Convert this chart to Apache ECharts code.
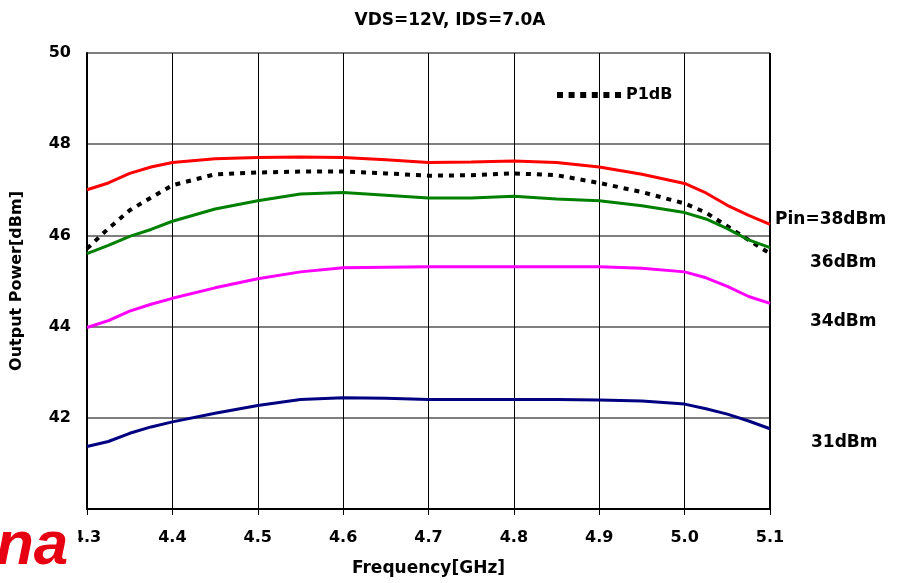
<!DOCTYPE html>
<html>
<head>
<meta charset="utf-8">
<script src="https://cdn.jsdelivr.net/npm/echarts@6/dist/echarts.min.js"></script>
<style>
  html, body { margin: 0; padding: 0; background: #fff; }
  #chart { width: 899px; height: 583px; }
</style>
</head>
<body>
<div id="chart"></div>
<script>
// 频率点 (GHz)
const freq = [4.3, 4.325, 4.35, 4.375, 4.4, 4.45, 4.5, 4.55, 4.6, 4.65, 4.7,
  4.75, 4.8, 4.85, 4.9, 4.95, 5.0, 5.025, 5.05, 5.075, 5.1]

// 各输入功率下的输出功率 (dBm)
const pin38 = [47.0, 47.15, 47.36, 47.5, 47.6, 47.68, 47.71, 47.72, 47.71, 47.66, 47.6,
  47.61, 47.63, 47.6, 47.5, 47.34, 47.14, 46.93, 46.66, 46.44, 46.24]
const p1dB = [45.71, 46.15, 46.55, 46.83, 47.1, 47.34, 47.38, 47.4, 47.4, 47.36, 47.31,
  47.32, 47.36, 47.32, 47.15, 46.95, 46.7, 46.5, 46.2, 45.9, 45.6]
const pin36 = [45.6, 45.78, 45.98, 46.13, 46.31, 46.58, 46.76, 46.91, 46.94, 46.88, 46.82,
  46.82, 46.86, 46.8, 46.76, 46.65, 46.5, 46.36, 46.15, 45.9, 45.73]
const pin34 = [43.98, 44.13, 44.34, 44.49, 44.62, 44.85, 45.05, 45.2, 45.29, 45.3, 45.31,
  45.31, 45.31, 45.31, 45.31, 45.28, 45.2, 45.07, 44.88, 44.66, 44.51]
const pin31 = [41.37, 41.48, 41.66, 41.8, 41.91, 42.1, 42.27, 42.4, 42.44, 42.43, 42.4,
  42.4, 42.4, 42.4, 42.39, 42.37, 42.3, 42.2, 42.08, 41.93, 41.76]

const curveLabels = ['Pin=38dBm', '36dBm', '34dBm', '31dBm']

const font = '"DejaVu Sans", Verdana, sans-serif'

// 图例用的方点虚线
const dotIcon = 'path://M0 0H6V6H0Z M11.6 0H17.6V6H11.6Z M23.2 0H29.2V6H23.2Z ' +
  'M34.8 0H40.8V6H34.8Z M46.4 0H52.4V6H46.4Z M58 0H64V6H58Z'

function pairs(values) {
  return freq.map((f, i) => [f, values[i]])
}

function curve(name, values, color, extra) {
  return Object.assign({
    name: name,
    type: 'line',
    data: pairs(values),
    symbol: 'none',
    silent: true,
    lineStyle: { color: color, width: 3 },
    itemStyle: { color: color }
  }, extra || {})
}

const chart = echarts.init(document.getElementById('chart'))

chart.setOption({
  backgroundColor: '#fff',
  animation: false,
  textStyle: { fontFamily: font },
  title: {
    text: 'VDS=12V, IDS=7.0A',
    left: 445,
    top: 7,
    textAlign: 'center',
    textStyle: { fontSize: 17, fontWeight: 'bold', color: '#000', fontFamily: font }
  },
  legend: {
    data: [{ name: 'P1dB', icon: dotIcon }],
    left: 552,
    top: 82,
    itemWidth: 64,
    itemHeight: 6,
    itemGap: 10,
    itemStyle: { color: '#000', borderWidth: 0 },
    lineStyle: { width: 0 },
    textStyle: { fontSize: 16, fontWeight: 'bold', color: '#000', fontFamily: font }
  },
  grid: { left: 87, right: 129, top: 53, bottom: 74 },
  xAxis: {
    type: 'value',
    min: 4.3,
    max: 5.1,
    interval: 0.1,
    name: 'Frequency[GHz]',
    nameLocation: 'middle',
    nameGap: 51,
    nameTextStyle: { fontSize: 17, fontWeight: 'bold', color: '#000', fontFamily: font },
    axisLine: { lineStyle: { color: '#000', width: 2 } },
    axisTick: { show: true, length: 6, lineStyle: { color: '#000' } },
    axisLabel: {
      fontSize: 16, fontWeight: 'bold', color: '#000', margin: 21,
      formatter: v => v.toFixed(1)
    },
    splitLine: { show: true, lineStyle: { color: '#000', width: 1 } }
  },
  yAxis: {
    type: 'value',
    min: 40,
    max: 50,
    interval: 2,
    name: 'Output Power[dBm]',
    nameLocation: 'middle',
    nameGap: 62,
    nameTextStyle: { fontSize: 16, fontWeight: 'bold', color: '#000', fontFamily: font },
    axisLine: { show: true, lineStyle: { color: '#000', width: 2 } },
    axisTick: { show: false },
    axisLabel: {
      fontSize: 16, fontWeight: 'bold', color: '#000', margin: 16,
      formatter: v => (v === 40 ? '' : String(v))
    },
    splitLine: { show: true, lineStyle: { color: '#7f7f7f', width: 2 } }
  },
  series: [
    curve('Pin=38dBm', pin38, '#ff0000'),
    curve('P1dB', p1dB, '#000000', {
      lineStyle: { color: '#000', width: 4, type: [5, 6] },
      z: 3
    }),
    curve('36dBm', pin36, '#008000'),
    curve('34dBm', pin34, '#ff00ff'),
    curve('31dBm', pin31, '#000080'),
    // 右侧边框
    {
      type: 'line',
      data: [[5.1, 40], [5.1, 50]],
      symbol: 'none',
      silent: true,
      lineStyle: { color: '#000', width: 2 },
      z: 1
    }
  ],
  graphic: [
    {
      type: 'text', left: 773, top: 209, z: 10,
      style: {
        text: curveLabels[0], fill: '#000', backgroundColor: '#fff',
        font: 'bold 17px ' + font, padding: [2, 0, 2, 2]
      }
    },
    { type: 'text', left: 810, top: 254, style: { text: curveLabels[1], fill: '#000', font: 'bold 17px ' + font } },
    { type: 'text', left: 810, top: 313, style: { text: curveLabels[2], fill: '#000', font: 'bold 17px ' + font } },
    { type: 'text', left: 811, top: 434, style: { text: curveLabels[3], fill: '#000', font: 'bold 17px ' + font } },
    // 左下角水印（白底盖住部分刻度文字）
    {
      type: 'text', left: -4, top: 512, z: 100,
      style: {
        text: 'na', fill: '#e60012', backgroundColor: '#fff',
        padding: [4, 10, 0, 0],
        font: 'italic bold 62px "Liberation Sans", Arial, sans-serif'
      }
    }
  ]
})
</script>
</body>
</html>
